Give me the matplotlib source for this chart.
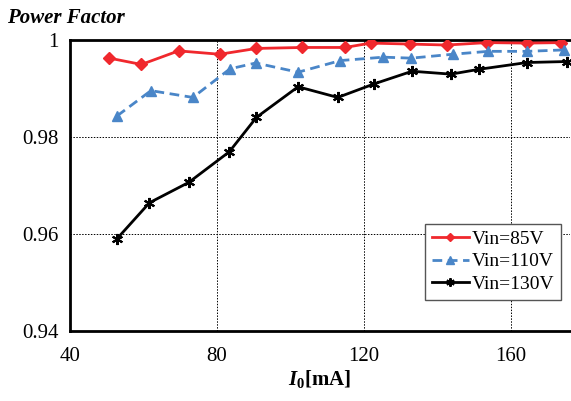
import matplotlib
matplotlib.use('Agg')
from matplotlib import pyplot as plt

# load current [mA] and measured power factor
io_85 = [50.8, 59.5, 69.6, 80.8, 90.8, 103.3, 114.9, 121.8, 132.4, 142.5, 153.4, 164.3, 173.6]
pf_85 = [0.9962, 0.9949, 0.9977, 0.9970, 0.9982, 0.9984, 0.9984, 0.9993, 0.9991, 0.9989, 0.9994, 0.9993, 0.9994]

io_110 = [52.9, 62.1, 73.5, 83.6, 90.6, 102.1, 113.6, 125.3, 132.9, 144.1, 153.8, 164.4, 174.5]
pf_110 = [0.9843, 0.9895, 0.9881, 0.9940, 0.9952, 0.9933, 0.9957, 0.9964, 0.9962, 0.9970, 0.9976, 0.9976, 0.9979]

io_130 = [52.9, 61.7, 72.4, 83.4, 90.8, 102.1, 112.9, 122.8, 133.1, 143.7, 151.3, 164.4, 175.1]
pf_130 = [0.9590, 0.9664, 0.9706, 0.9769, 0.9840, 0.9903, 0.9881, 0.9909, 0.9935, 0.9929, 0.9939, 0.9953, 0.9955]

x_ticks = [40, 80, 120, 160]
y_ticks = [0.94, 0.96, 0.98, 1.0]
y_tick_labels = ['0.94', '0.96', '0.98', '1']


def main():
    plt.rcParams['font.family'] = ['Liberation Serif', 'DejaVu Serif']
    plt.rcParams['mathtext.fontset'] = 'custom'
    plt.rcParams['mathtext.rm'] = 'Liberation Serif'
    plt.rcParams['mathtext.it'] = 'Liberation Serif:italic'
    plt.rcParams['mathtext.bf'] = 'Liberation Serif:bold'
    plt.rcParams['mathtext.bfit'] = 'Liberation Serif:italic:bold'

    fig = plt.figure(figsize=(5.71, 4.01), dpi=100)
    ax = fig.add_axes([0.122, 0.175, 0.876, 0.726])

    ax.plot(io_85, pf_85, color='#f0282d', lw=2, marker='D', ms=6, label='Vin=85V', zorder=3)
    ax.plot(io_110, pf_110, color='#4a86c8', lw=2, ls=(0, (3.5, 2)), marker='^', ms=7,
            label='Vin=110V', zorder=3)
    ax.plot(io_130, pf_130, color='black', lw=2, marker=(6, 2, 0), ms=8, mew=1.5,
            label='Vin=130V', zorder=3)

    ax.set_xlim(40, 176)
    ax.set_ylim(0.94, 1.0)
    ax.set_xticks(x_ticks)
    ax.set_yticks(y_ticks)
    ax.set_yticklabels(y_tick_labels)
    ax.tick_params(length=0, labelsize=15, pad=8)
    ax.tick_params(axis='x', pad=12)
    ax.grid(True, color='black', ls=(0, (1.5, 1.5)), lw=0.7)

    for side in ['left', 'top', 'bottom']:
        ax.spines[side].set_linewidth(2)
    ax.spines['right'].set_visible(False)

    ax.set_xlabel(r'$\mathbfit{I}_\mathbf{0}$[mA]', fontsize=15, fontweight='bold', labelpad=1)
    fig.text(0.012, 0.955, 'Power Factor', fontsize=15, fontweight='bold', style='italic',
             va='center', ha='left')

    leg = ax.legend(loc='lower right', bbox_to_anchor=(0.982, 0.107), fontsize=14,
                    fancybox=False, edgecolor='#555555', framealpha=1, borderaxespad=0,
                    handlelength=1.9, handletextpad=0.15, borderpad=0.35, labelspacing=0.25,
                    markerscale=0.75)
    leg.get_frame().set_linewidth(1)

    fig.savefig('out.png', dpi=100)


if __name__ == '__main__':
    main()
